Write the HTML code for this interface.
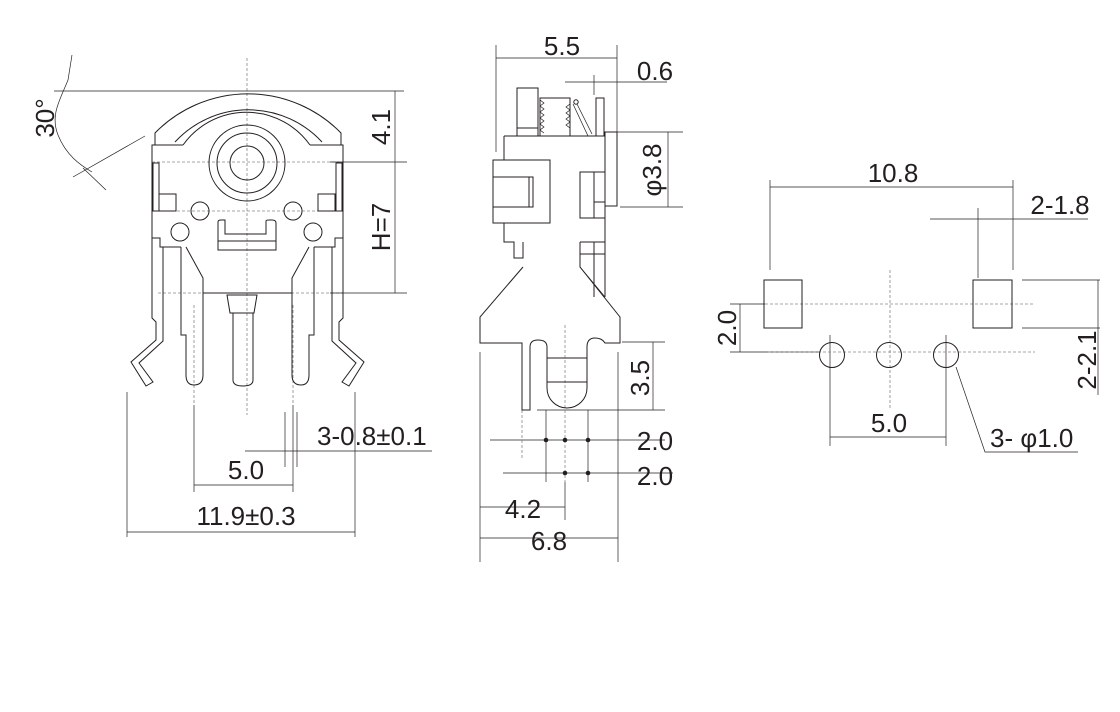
<!DOCTYPE html>
<html><head><meta charset="utf-8"><style>
html,body{margin:0;padding:0;background:#fff;}
svg{display:block;}
text{font-family:"Liberation Sans",sans-serif;font-size:26px;fill:#231f20;}
</style></head><body>
<svg width="1120" height="712" viewBox="0 0 1120 712" xmlns="http://www.w3.org/2000/svg">
<g fill="none" stroke="#231f20" stroke-width="1">
<g stroke="#888" stroke-dasharray="3,2" stroke-width="0.8">
<line x1="247" y1="58" x2="247" y2="415"/>
<line x1="152" y1="162" x2="343" y2="162"/>
<line x1="152" y1="211" x2="343" y2="211"/>
<line x1="158" y1="293" x2="218" y2="293"/>
<line x1="276" y1="293" x2="343" y2="293"/>
<line x1="194" y1="305" x2="194" y2="405"/>
<line x1="293" y1="305" x2="293" y2="405"/>
</g>
<line x1="54" y1="91" x2="404" y2="91" stroke-width="0.7"/>
<path d="M155,145 L155,133 A130,130 0 0 1 341,133 L341,145"/>
<path d="M175,142 A100,100 0 0 1 322,142"/>
<path d="M152,238 L152,145 L183,145 M310,145 L343,145 L343,238"/>
<path d="M183,145 A78,78 0 0 1 310,145"/>
<rect x="153" y="163" width="6" height="48"/>
<rect x="159" y="194" width="17" height="17"/>
<rect x="336" y="163" width="6" height="48"/>
<rect x="318" y="194" width="17" height="17"/>
<circle cx="247" cy="163" r="38"/>
<circle cx="247" cy="163" r="30"/>
<circle cx="247" cy="163" r="17"/>
<circle cx="200" cy="211" r="9"/>
<circle cx="293" cy="211" r="9"/>
<circle cx="180" cy="232" r="9"/>
<circle cx="313" cy="232" r="9"/>
<path d="M218,250 V222 Q218,220 221,220 H225 V234 H266 V221 Q266,220 269,220 H272 Q276,220 276,223 V250 Z"/>
<line x1="218" y1="241" x2="276" y2="241"/>
<path d="M152,238 H160 V247 H181"/>
<path d="M343,238 H335 V247 H314"/>
<path d="M181,247 V335 H186 V375 Q186,385 194,385 Q203,385 203,375 V278 L186,247"/>
<path d="M314,247 V335 H309 V375 Q309,385 301,385 Q292,385 292,375 V278 L309,247"/>
<line x1="203" y1="293" x2="292" y2="293"/>
<path d="M227,295 H257 L254,313 H230 Z"/>
<path d="M233,313 V380 Q233,386 243,386 Q253,386 253,380 V313"/>
<path d="M152,238 V318 L156,322 V340 L131,362 L146,386 L153,382 L139,363 L163,341 V247"/>
<path d="M343,238 V318 L339,322 V340 L364,362 L349,386 L342,382 L356,363 L332,341 V247"/>
<path d="M72,55 L68,80 C60,100 50,115 58,135 C66,155 80,165 92,172" stroke-width="0.7"/>
<line x1="73" y1="177" x2="145" y2="136" stroke-width="0.7"/>
<line x1="83" y1="168" x2="106" y2="190" stroke-width="0.7"/>
<g stroke-width="0.7">
<line x1="395" y1="91" x2="395" y2="293"/>
<line x1="330" y1="162" x2="407" y2="162"/>
<line x1="330" y1="293" x2="407" y2="293"/>
<line x1="127" y1="392" x2="127" y2="537"/>
<line x1="355" y1="392" x2="355" y2="537"/>
<line x1="127" y1="532" x2="355" y2="532"/>
<line x1="194" y1="405" x2="194" y2="492"/>
<line x1="293" y1="405" x2="293" y2="492"/>
<line x1="194" y1="485" x2="293" y2="485"/>
<line x1="285" y1="412" x2="285" y2="467"/>
<line x1="297" y1="412" x2="297" y2="467"/>
<line x1="245" y1="451" x2="432" y2="451"/>
</g>

<g stroke-width="0.7">
<line x1="496" y1="58" x2="617" y2="58"/>
<line x1="496" y1="45" x2="496" y2="152"/>
<line x1="617" y1="45" x2="617" y2="135"/>
<line x1="565" y1="82" x2="667" y2="82"/>
<line x1="594" y1="75" x2="594" y2="95"/>
<line x1="617" y1="132" x2="683" y2="132"/>
<line x1="620" y1="207" x2="683" y2="207"/>
<line x1="668" y1="132" x2="668" y2="207"/>
<line x1="653" y1="342" x2="653" y2="410"/>
<line x1="622" y1="342" x2="665" y2="342"/>
<line x1="537" y1="410" x2="665" y2="410"/>
<line x1="490" y1="440" x2="665" y2="440"/>
<line x1="503" y1="473" x2="673" y2="473"/>
<line x1="546" y1="410" x2="546" y2="482"/>
<line x1="588" y1="410" x2="588" y2="482"/>
<line x1="480" y1="507" x2="565" y2="507"/>
<line x1="480" y1="538" x2="618" y2="538"/>
<line x1="480" y1="352" x2="480" y2="562"/>
<line x1="618" y1="352" x2="618" y2="562"/>
<line x1="565" y1="482" x2="565" y2="520"/>
</g>
<g stroke="#888" stroke-dasharray="3,2" stroke-width="0.8">
<line x1="565" y1="325" x2="565" y2="482"/>
<line x1="522" y1="400" x2="522" y2="458"/>
</g>
<rect x="517" y="88" width="21" height="48"/>
<line x1="517" y1="128" x2="538" y2="128"/>
<rect x="540" y="98" width="30" height="38"/>
<path d="M540,100 l4,3 l-4,3 l4,3 l-4,3 l4,3 l-4,3 l4,3 l-4,3 l4,3 l-4,3 l4,3" stroke-width="0.7"/>
<path d="M570,104 l-4,3 l4,3 l-4,3 l4,3 l-4,3 l4,3 l-4,3 l4,3" stroke-width="0.7"/>
<path d="M573,104 L588,136 M577,104 L592,134" stroke-width="0.7"/>
<circle cx="576" cy="102" r="2.2"/>
<rect x="596" y="98" width="8" height="38"/>
<path d="M504,136 H605 V297"/>
<path d="M504,136 V160"/>
<rect x="493" y="160" width="57" height="63"/>
<rect x="493" y="177" width="40" height="30"/>
<line x1="529" y1="177" x2="529" y2="207"/>
<path d="M504,223 V242 H514 V258 H523 V242"/>
<path d="M523,267 L480,317 V343 H522 V410 H530 V347 Q530,340 538,340 Q547,340 547,347 V358"/>
<rect x="547" y="358" width="40" height="24"/>
<path d="M547,382 V388 A20,20 0 0 0 587,388 V382"/>
<path d="M587,358 V347 Q587,338 595,338 Q602,338 605,343 H620 V317 L580,267 V242"/>
<rect x="580" y="172" width="25" height="46"/>
<line x1="594" y1="172" x2="594" y2="218"/>
<line x1="594" y1="202" x2="605" y2="202"/>
<path d="M580,242 H605 M594,242 V297 M580,254 H605"/>
<path d="M580,267 L605,297" stroke-width="0.7"/>
<rect x="605" y="132" width="12" height="74"/>
<g fill="#231f20" stroke="none">
<circle cx="546" cy="440" r="2.3"/><circle cx="565" cy="440" r="2.3"/><circle cx="588" cy="440" r="2.3"/>
<circle cx="565" cy="473" r="2.3"/><circle cx="588" cy="473" r="2.3"/>
</g>

<g stroke-width="0.7">
<line x1="770" y1="187" x2="1013" y2="187"/>
<line x1="770" y1="180" x2="770" y2="270"/>
<line x1="1013" y1="180" x2="1013" y2="270"/>
<line x1="930" y1="219" x2="1088" y2="219"/>
<line x1="978" y1="208" x2="978" y2="278"/>
<line x1="740" y1="304" x2="740" y2="352"/>
<line x1="730" y1="304" x2="765" y2="304"/>
<line x1="730" y1="352" x2="820" y2="352"/>
<line x1="1098" y1="280" x2="1098" y2="395"/>
<line x1="1022" y1="280" x2="1100" y2="280"/>
<line x1="1022" y1="328" x2="1100" y2="328"/>
<line x1="830" y1="437" x2="946" y2="437"/>
<line x1="830" y1="335" x2="830" y2="446"/>
<line x1="946" y1="335" x2="946" y2="446"/>
<path d="M956,367 L985,452 H1078"/>
</g>
<g stroke="#888" stroke-dasharray="3,2" stroke-width="0.8">
<line x1="765" y1="304" x2="1035" y2="304"/>
<line x1="768" y1="352" x2="1035" y2="352"/>
<line x1="890" y1="270" x2="890" y2="408"/>
</g>
<rect x="764" y="280" width="38" height="48"/>
<rect x="973" y="280" width="39" height="48"/>
<circle cx="832" cy="355" r="12.5"/>
<circle cx="889" cy="355" r="12.5"/>
<circle cx="946" cy="355" r="12.5"/>
</g>

<text transform="translate(54,118) rotate(-90)" text-anchor="middle">30°</text>
<text transform="translate(390,127) rotate(-90)" text-anchor="middle">4.1</text>
<text transform="translate(390,227) rotate(-90)" text-anchor="middle">H=7</text>
<text x="317" y="445">3-0.8±0.1</text>
<text x="246" y="479" text-anchor="middle">5.0</text>
<text x="246" y="525" text-anchor="middle">11.9±0.3</text>

<text x="562" y="55" text-anchor="middle">5.5</text>
<text x="655" y="80" text-anchor="middle">0.6</text>
<text transform="translate(661,170) rotate(-90)" text-anchor="middle">φ3.8</text>
<text transform="translate(649,378) rotate(-90)" text-anchor="middle">3.5</text>
<text x="655" y="450" text-anchor="middle">2.0</text>
<text x="655" y="485" text-anchor="middle">2.0</text>
<text x="523" y="518" text-anchor="middle">4.2</text>
<text x="549" y="550" text-anchor="middle">6.8</text>

<text x="893" y="182" text-anchor="middle">10.8</text>
<text x="1060" y="214" text-anchor="middle">2-1.8</text>
<text transform="translate(736,328) rotate(-90)" text-anchor="middle">2.0</text>
<text transform="translate(1096,360) rotate(-90)" text-anchor="middle">2-2.1</text>
<text x="889" y="432" text-anchor="middle">5.0</text>
<text x="990" y="447">3- φ1.0</text>
</svg>
</body></html>
